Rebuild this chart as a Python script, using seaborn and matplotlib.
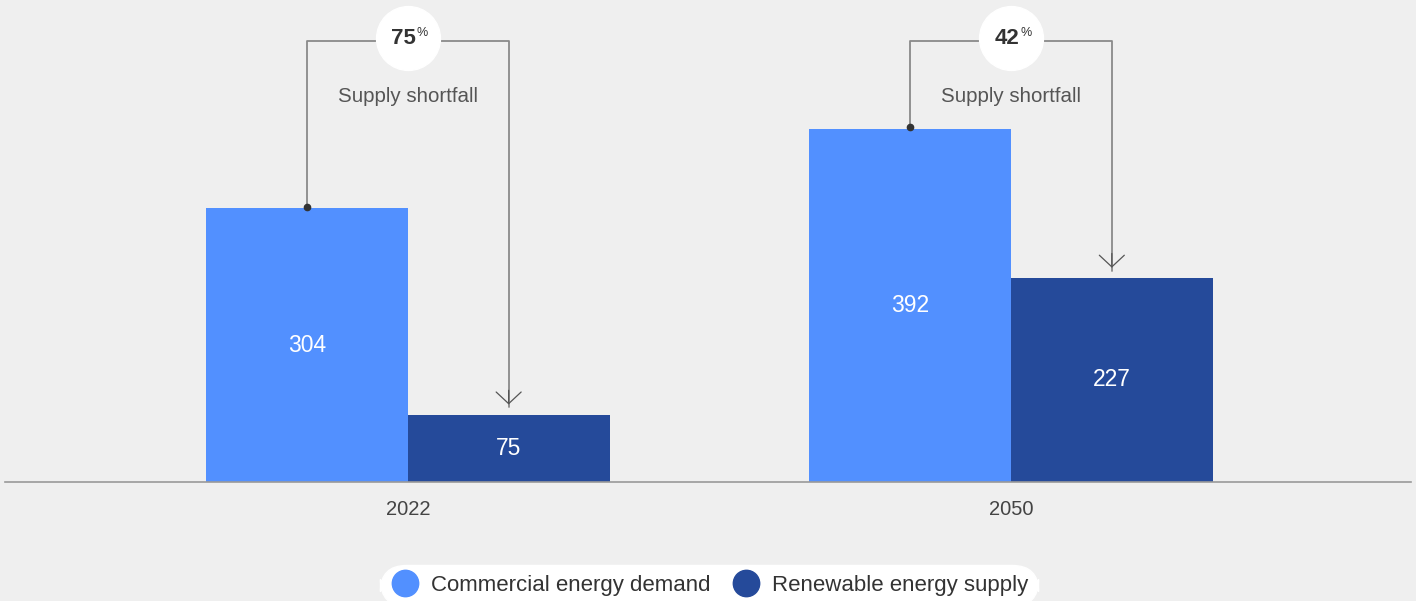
import matplotlib.pyplot as plt
import seaborn as sns
import pandas as pd
from matplotlib.lines import Line2D

years = ['2022', '2050']
demand = [304, 392]
supply = [75, 227]
shortfall = [75, 42]
series = ['Commercial energy demand', 'Renewable energy supply']
colors = ['#5290FF', '#254A9A']

df = pd.DataFrame({
    'year': years * 2,
    'value': demand + supply,
    'series': [series[0]] * 2 + [series[1]] * 2,
})

sns.set_theme(style='white')
plt.rcParams['font.family'] = ['Liberation Sans', 'DejaVu Sans']
bg = '#EFEFEF'

fig = plt.figure(figsize=(14.16, 6.01), dpi=100, facecolor=bg)
ax = fig.add_axes([5 / 1416, (601 - 482) / 601, 1406 / 1416, 482 / 601])
ax.set_facecolor(bg)

sns.barplot(data=df, x='year', y='value', hue='series', palette=colors,
            width=0.67, saturation=1, linewidth=0, ax=ax, legend=False)

ax.set_xlim(-0.668, 1.663)
ax.set_ylim(0, 535.6)

for c in ax.containers:
    ax.bar_label(c, label_type='center', color='white', fontsize=16.5)

ax.set_xlabel('')
ax.set_ylabel('')
ax.set_yticks([])
ax.tick_params(axis='x', length=0, labelsize=14.5, colors='#444444', pad=13)
for s in ['top', 'left', 'right']:
    ax.spines[s].set_visible(False)
ax.spines['bottom'].set_color('#999999')
ax.spines['bottom'].set_linewidth(1.2)

# shortfall brackets
lc = '#8A8A8A'
top = 490
for i, (d, s, p) in enumerate(zip(demand, supply, shortfall)):
    xd = i - 0.167
    xs = i + 0.167
    ax.plot([xd, xd, xs, xs], [d + 2, top, top, s + 8], color=lc, lw=1.3, zorder=3)
    ax.plot([xd], [d + 2], 'o', color='#333333', ms=4.5, zorder=4)
    ax.annotate('', xy=(xs, s + 8), xytext=(xs, s + 30),
                arrowprops=dict(arrowstyle='->,head_length=0.7,head_width=0.75',
                                color='#555555', lw=0.9), zorder=4)
    ax.plot([i], [top + 3], 'o', color='white', ms=46, zorder=5)
    ax.annotate(str(p), xy=(i, top + 3), xytext=(-3, 0), textcoords='offset points',
                ha='center', va='center', fontsize=16, fontweight='bold',
                color='#333333', zorder=6)
    ax.annotate('%', xy=(i, top + 3), xytext=(6.5, 3.5), textcoords='offset points',
                ha='left', va='center', fontsize=9, color='#333333', zorder=6)
    ax.text(i, top - 62, 'Supply shortfall', ha='center', va='center',
            fontsize=14.8, color='#555555')

handles = [Line2D([], [], marker='o', ls='', ms=19, color=c) for c in colors]
leg = fig.legend(handles, series, loc='center', bbox_to_anchor=(709 / 1416, 16 / 601),
                 ncol=2, frameon=True, fontsize=16, handletextpad=0.48,
                 columnspacing=0.88, borderpad=0.4, handlelength=1.4,
                 fancybox=True, framealpha=1)
leg.get_frame().set_facecolor('white')
leg.get_frame().set_edgecolor('white')
leg.get_frame().set_boxstyle('round,pad=0.05,rounding_size=1.2')
for t in leg.get_texts():
    t.set_color('#333333')

fig.savefig('out.png', dpi=100, facecolor=bg)
